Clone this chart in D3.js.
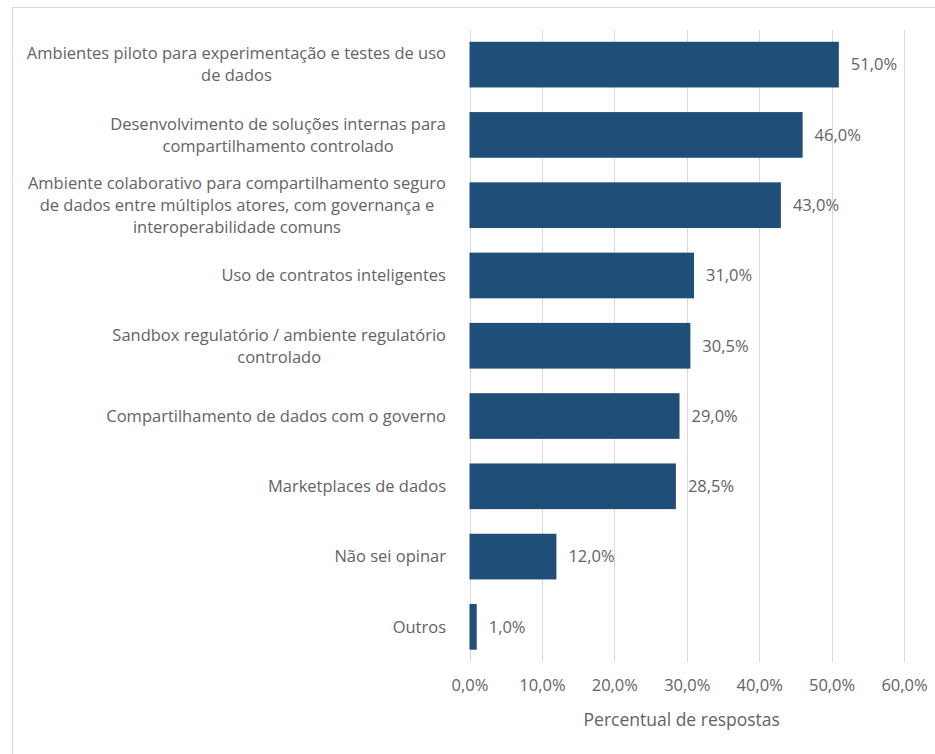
<!DOCTYPE html>
<html>
<head>
<meta charset="utf-8">
<script src="https://cdn.jsdelivr.net/npm/d3@7"></script>
<style>
  html, body { margin: 0; padding: 0; background: #fff; }
  svg { display: block; }
  text { font-family: "Open Sans", "Noto Sans", sans-serif; fill: #636363; }
</style>
</head>
<body>
<svg id="chart" width="935" height="754"></svg>
<script>
// Categories (line breaks mark the wrapped label lines)
const categories = [
  "Ambientes piloto para experimentação e testes de uso\nde dados",
  "Desenvolvimento de soluções internas para\ncompartilhamento controlado",
  "Ambiente colaborativo para compartilhamento seguro\nde dados entre múltiplos atores, com governança e\ninteroperabilidade comuns",
  "Uso de contratos inteligentes",
  "Sandbox regulatório / ambiente regulatório\ncontrolado",
  "Compartilhamento de dados com o governo",
  "Marketplaces de dados",
  "Não sei opinar",
  "Outros"
];
const values = [51.0, 46.0, 43.0, 31.0, 30.5, 29.0, 28.5, 12.0, 1.0];
const tickValues = [0, 10, 20, 30, 40, 50, 60];
const axisTitle = "Percentual de respostas";

const fmt = v => v.toFixed(1).replace(".", ",") + "%";

const svg = d3.select("#chart");

// outer frame
svg.append("rect")
  .attr("x", 12.5).attr("y", 7.5)
  .attr("width", 940).attr("height", 760)
  .attr("fill", "none").attr("stroke", "#d9d9d9").attr("stroke-width", 1);

const x = d3.scaleLinear().domain([0, 60]).range([469.5, 904]);
const y = d3.scaleBand().domain(d3.range(categories.length))
  .range([29.5, 662]).paddingInner(0.35).paddingOuter(0.175);

// vertical gridlines
svg.append("g").selectAll("line").data(tickValues).join("line")
  .attr("x1", d => Math.round(x(d)) + 0.5).attr("x2", d => Math.round(x(d)) + 0.5)
  .attr("y1", 30).attr("y2", 662)
  .attr("stroke", "#d9d9d9").attr("stroke-width", 1);

// x axis tick labels
const xAxis = d3.axisBottom(x).tickValues(tickValues).tickSize(0).tickPadding(0).tickFormat(fmt);
const gx = svg.append("g").attr("transform", "translate(0,679)").call(xAxis);
gx.select(".domain").remove();
gx.selectAll("text").attr("font-size", 16.5).attr("fill", "#636363")
  .style("font-family", '"Open Sans", sans-serif');

// axis title
svg.append("text")
  .attr("x", (x(0) + x(60)) / 2 - 5).attr("y", 726)
  .attr("text-anchor", "middle").attr("font-size", 17.5)
  .text(axisTitle);

// bars
svg.append("g").selectAll("rect").data(values).join("rect")
  .attr("x", x(0))
  .attr("y", (d, i) => y(i))
  .attr("width", d => x(d) - x(0))
  .attr("height", y.bandwidth())
  .attr("fill", "#1f4e79");

// value labels
svg.append("g").selectAll("text").data(values).join("text")
  .attr("x", d => x(d) + 12)
  .attr("y", (d, i) => y(i) + y.bandwidth() / 2)
  .attr("dy", "0.35em")
  .attr("font-size", 16.5)
  .text(d => fmt(d));

// category labels: wrapped lines centred within a right-aligned block
const labelRight = 446;
const lineH = 22;
const catG = svg.append("g").attr("font-size", 16.5);
categories.forEach((c, i) => {
  const lines = c.split("\n");
  const cy = y(i) + y.bandwidth() / 2;
  const t = catG.append("text").attr("text-anchor", "middle");
  lines.forEach((ln, k) => {
    t.append("tspan").attr("x", 0)
      .attr("y", cy + (k - (lines.length - 1) / 2) * lineH)
      .attr("dy", "0.35em").text(ln);
  });
  // block width = widest line; centre it so its right edge sits at labelRight
  const w = d3.max(t.selectAll("tspan").nodes(), n => n.getComputedTextLength());
  t.selectAll("tspan").attr("x", labelRight - w / 2);
});
</script>
</body>
</html>
